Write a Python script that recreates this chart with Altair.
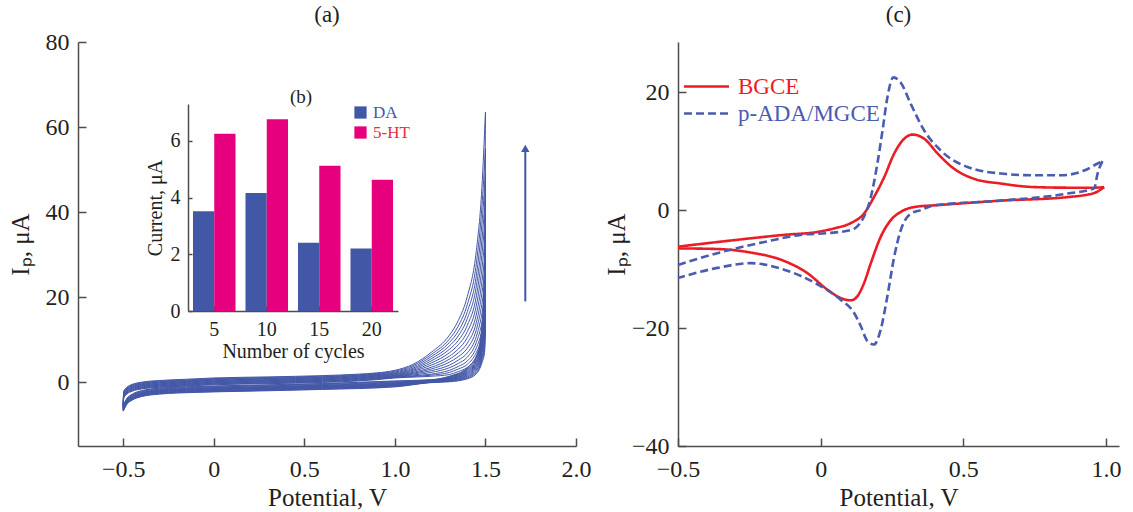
import altair as alt
import pandas as pd

FONT = "Liberation Serif"
TXT = "#231f20"
AXC = "#4d4d4d"
BLUE = "#4357a7"
RED = "#ec1c24"
MAG = "#e6007e"
LBLUE = "#4a5cb0"

# ---------------- panel (a): repeated CV cycles ----------------
# shared forward (anodic) baseline, E <= 0.9 V
fwd_base_E = [-0.5, -0.498, -0.48, -0.45, -0.4, -0.3, -0.15, 0.0, 0.3, 0.6, 0.8, 0.9]
fwd_base_I = [-6.0, -3.0, -2.0, -1.3, -0.8, -0.4, -0.1, 0.2, 0.45, 0.75, 1.1, 1.4]
# shared reverse (cathodic) baseline, E <= 1.0 V
rev_base_E = [1.0, 0.6, 0.2, -0.1, -0.3, -0.4, -0.45, -0.48, -0.5]
rev_base_I = [-0.3, -0.9, -1.3, -1.6, -2.0, -2.6, -3.4, -4.4, -6.0]
# small drift of each cycle
fwd_offset = [-0.8, -0.68, -0.56, -0.44, -0.32, -0.2, -0.08, 0.04, 0.16, 0.28, 0.4, 0.52, 0.66, 0.8]
rev_offset = [-0.8, -0.7, -0.6, -0.5, -0.4, -0.3, -0.2, -0.1, 0.0, 0.1, 0.2, 0.35, 0.5, 0.6]
# forward currents of each cycle near the anodic limit
fwd_E_hi = [1.0, 1.1, 1.2, 1.3, 1.35, 1.4, 1.45, 1.48, 1.5]
fwd_100 = [1.0, 1.1, 1.2, 1.3, 1.4, 1.5, 1.6, 1.75, 1.9, 2.05, 2.2, 2.4, 2.6, 2.8]
fwd_110 = [1.2, 1.35, 1.5, 1.7, 1.9, 2.1, 2.3, 2.55, 2.8, 3.05, 3.3, 3.6, 3.9, 4.2]
fwd_120 = [1.4, 1.65, 1.9, 2.3, 2.7, 3.1, 3.5, 4.0, 4.5, 5.0, 5.5, 6.0, 6.5, 7.0]
fwd_130 = [1.8, 2.3, 2.8, 3.4, 4.0, 4.7, 5.4, 6.1, 6.9, 7.7, 8.5, 9.3, 10.1, 11.0]
fwd_135 = [2.5, 3.1, 3.7, 4.4, 5.2, 6.0, 6.9, 7.8, 8.8, 9.8, 10.9, 12.0, 13.2, 14.5]
fwd_140 = [3.5, 4.2, 5.0, 5.9, 6.9, 8.0, 9.2, 10.5, 11.9, 13.4, 15.0, 16.6, 18.3, 20.2]
fwd_145 = [6.0, 7.0, 8.1, 9.4, 10.8, 12.4, 14.1, 16.0, 18.1, 20.3, 22.7, 25.2, 28.0, 31.0]
fwd_148 = [9.0, 10.4, 12.0, 13.9, 16.0, 18.3, 20.8, 23.5, 26.5, 29.8, 33.2, 37.0, 41.0, 45.5]
peak_150 = [12.5, 14.5, 16.5, 19.0, 21.5, 24.5, 27.5, 31.0, 35.0, 39.5, 44.0, 49.0, 55.0, 63.5]
# reverse currents of each cycle near the anodic limit
rev_E_hi = [1.5, 1.495, 1.48, 1.45, 1.4, 1.3, 1.2]
rev_1495 = [7.0, 8.0, 9.0, 10.0, 11.0, 12.5, 14.0, 15.5, 17.0, 19.0, 21.0, 23.0, 26.0, 30.0]
rev_148 = [4.5, 5.0, 5.5, 6.0, 6.6, 7.2, 7.8, 8.4, 9.0, 9.7, 10.4, 11.2, 12.0, 13.0]
rev_145 = [2.0, 2.3, 2.6, 2.9, 3.2, 3.5, 3.8, 4.1, 4.4, 4.7, 5.0, 5.4, 5.8, 6.2]
rev_140 = [0.8, 1.0, 1.2, 1.4, 1.6, 1.8, 2.0, 2.2, 2.4, 2.6, 2.8, 3.0, 3.2, 3.4]
rev_130 = [0.1, 0.2, 0.3, 0.4, 0.5, 0.6, 0.7, 0.8, 0.9, 1.0, 1.1, 1.2, 1.3, 1.4]
rev_120 = [-0.1, 0.0, 0.0, 0.1, 0.1, 0.2, 0.2, 0.3, 0.3, 0.4, 0.4, 0.5, 0.5, 0.6]

fwd_cols = [fwd_100, fwd_110, fwd_120, fwd_130, fwd_135, fwd_140, fwd_145, fwd_148, peak_150]
rev_cols = [peak_150, rev_1495, rev_148, rev_145, rev_140, rev_130, rev_120]

rows = []
for k in range(len(peak_150)):
    i = 0
    for e, v in zip(fwd_base_E, fwd_base_I):
        rows.append({"branch": f"{k}f", "idx": i, "E": e, "I": v + fwd_offset[k]}); i += 1
    for e, col in zip(fwd_E_hi, fwd_cols):
        rows.append({"branch": f"{k}f", "idx": i, "E": e, "I": col[k]}); i += 1
    i = 0
    for e, col in zip(rev_E_hi, rev_cols):
        rows.append({"branch": f"{k}r", "idx": i, "E": e, "I": col[k]}); i += 1
    for e, v in zip(rev_base_E, rev_base_I):
        rows.append({"branch": f"{k}r", "idx": i, "E": e, "I": v + rev_offset[k]}); i += 1
cv_df = pd.DataFrame(rows)

arrow_x = [1.72]
arrow_y0 = [19.0]
arrow_y1 = [55.0]
arrow_df = pd.DataFrame({"x": arrow_x, "y0": arrow_y0, "y1": arrow_y1})

# ---------------- inset (b) ----------------
cycle_labels = ["5", "10", "15", "20"]
da_current = [3.52, 4.16, 2.41, 2.20]
ht_current = [6.25, 6.76, 5.12, 4.63]
bars = []
for c, d, h in zip(cycle_labels, da_current, ht_current):
    bars.append({"cycles": c, "species": "DA", "current": d})
    bars.append({"cycles": c, "species": "5-HT", "current": h})
bar_df = pd.DataFrame(bars)

# ---------------- panel (c) ----------------
red_up_E = [-0.5, -0.304, -0.128, -0.011, 0.047, 0.106, 0.152, 0.187, 0.223, 0.258, 0.293, 0.322,
            0.363, 0.41, 0.468, 0.538, 0.632, 0.749, 0.866, 0.959, 0.994]
red_up_I = [-6.2, -5.1, -4.2, -3.7, -3.1, -2.2, -0.6, 2.2, 5.6, 9.6, 12.1, 12.8,
            12.1, 9.6, 7.0, 5.3, 4.5, 3.9, 3.8, 3.8, 3.9]
red_dn_E = [0.994, 0.959, 0.866, 0.632, 0.398, 0.34, 0.281, 0.246, 0.211, 0.176, 0.152, 0.129,
            0.106, 0.07, 0.024, -0.046, -0.14, -0.245, -0.362, -0.5]
red_dn_I = [3.9, 2.9, 2.2, 1.6, 0.8, 0.6, -0.3, -1.7, -4.5, -9.0, -12.4, -14.6,
            -15.3, -14.9, -13.5, -10.7, -8.4, -7.2, -6.6, -6.5]
blue_up_E = [-0.5, -0.362, -0.187, -0.07, 0.024, 0.106, 0.152, 0.176, 0.199, 0.217, 0.234, 0.255,
             0.281, 0.316, 0.363, 0.421, 0.515, 0.632, 0.749, 0.842, 0.924, 0.971, 0.988]
blue_up_I = [-9.3, -7.3, -5.3, -4.2, -3.9, -3.4, -1.1, 2.2, 7.9, 13.5, 19.1, 22.5,
             21.6, 18.0, 13.5, 10.1, 7.3, 6.2, 5.9, 5.9, 6.7, 7.9, 8.3]
blue_dn_E = [0.988, 0.971, 0.959, 0.866, 0.632, 0.398, 0.351, 0.316, 0.281, 0.258, 0.234, 0.211,
             0.187, 0.164, 0.141, 0.117, 0.07, -0.011, -0.128, -0.245, -0.362, -0.5]
blue_dn_I = [8.3, 6.2, 3.7, 2.8, 1.6, 0.8, 0.0, -0.6, -3.4, -7.9, -14.6, -20.2,
             -22.8, -22.2, -19.7, -17.4, -15.2, -12.6, -10.1, -9.0, -9.8, -11.5]
series_names = ["BGCE", "p-ADA/MGCE"]

crow = []
for name, b, es, iss in [
    ("BGCE", "r_up", red_up_E, red_up_I), ("BGCE", "r_dn", red_dn_E, red_dn_I),
    ("p-ADA/MGCE", "b_up", blue_up_E, blue_up_I), ("p-ADA/MGCE", "b_dn", blue_dn_E, blue_dn_I)]:
    for j, (e, v) in enumerate(zip(es, iss)):
        crow.append({"series": name, "branch": b, "idx": j, "E": e, "I": v})
c_df = pd.DataFrame(crow)

# ---------------- charts ----------------
AW, AH = 498, 404
CW, CH = 441, 404
TICK_IN = alt.ExprRef(expr="-8")
XLAB = "datum.value == 0 ? '0' : format(datum.value, '.1f')"

xa = alt.X("E:Q", scale=alt.Scale(domain=[-0.75, 2.0], nice=False, zero=False),
           axis=alt.Axis(values=[-0.5, 0, 0.5, 1.0, 1.5, 2.0], title="Potential, V", labelExpr=XLAB,
                         labelFlush=False, tickSize=TICK_IN, labelPadding=19, titlePadding=4))
ya = alt.Y("I:Q", scale=alt.Scale(domain=[-15, 80], nice=False, zero=False),
           axis=alt.Axis(values=[0, 20, 40, 60, 80], title="Iₚ, μA", labelFlush=False,
                         tickSize=TICK_IN, labelPadding=17, titlePadding=12))

curves = alt.Chart(cv_df).mark_line(color=BLUE, strokeWidth=1.0, interpolate="monotone").encode(
    x=xa, y=ya, detail="branch:N", order="idx:Q")
arrow_line = alt.Chart(arrow_df).mark_rule(color=BLUE, strokeWidth=2).encode(
    x="x:Q", y="y0:Q", y2="y1:Q")
arrow_head = alt.Chart(arrow_df).mark_point(shape="triangle-up", filled=True, size=70,
                                            color=BLUE, opacity=1).encode(x="x:Q", y="y1:Q")
main_a = alt.layer(curves, arrow_line, arrow_head)

inset_bars = alt.Chart(bar_df).mark_bar().encode(
    x=alt.X("cycles:N", sort=cycle_labels,
            scale=alt.Scale(range=[110, 320], paddingInner=0.19, paddingOuter=0.095),
            axis=alt.Axis(orient="bottom", offset=-135, title="Number of cycles", labelAngle=0,
                          labelFontSize=20, titleFontSize=20, tickSize=alt.ExprRef(expr="-5"),
                          labelPadding=13, titlePadding=2)),
    xOffset=alt.XOffset("species:N", sort=["DA", "5-HT"]),
    y=alt.Y("current:Q", scale=alt.Scale(domain=[0, 7.3], range=[269, 62], nice=False),
            axis=alt.Axis(orient="left", offset=-110, values=[0, 2, 4, 6], title="Current, μA",
                          labelFontSize=20, titleFontSize=20, tickSize=alt.ExprRef(expr="-4"),
                          labelPadding=12, titlePadding=5, labelFlush=False)),
    color=alt.Color("species:N", scale=alt.Scale(domain=["DA", "5-HT"], range=[BLUE, MAG]),
                    legend=alt.Legend(orient="none", legendX=274, legendY=62, title=None,
                                      symbolType="square", symbolSize=150, symbolStrokeWidth=0,
                                      labelFont=FONT, labelFontSize=17, rowPadding=2,
                                      labelColor=alt.ExprRef(expr="datum.label == 'DA' ? '#4357a7' : '#ee2a3c'"))),
)
inset_title = alt.Chart(pd.DataFrame({"t": ["(b)"]})).mark_text(
    font=FONT, fontSize=19, color=TXT, baseline="middle").encode(
    text="t:N", x=alt.value(223), y=alt.value(55))

chart_a = alt.layer(main_a, inset_bars, inset_title).resolve_scale(
    x="independent", y="independent").properties(
    width=AW, height=AH,
    title=alt.TitleParams("(a)", font=FONT, fontSize=23, fontWeight="normal", color=TXT, offset=3))

leg_c = alt.Legend(orient="none", legendX=17, legendY=33, title=None,
                   symbolType="M-2.5,0H2.5", symbolSize=324, symbolStrokeWidth=2.6,
                   labelFont=FONT, labelFontSize=23, labelOffset=20, rowPadding=3,
                   labelColor=alt.ExprRef(expr="datum.label == 'BGCE' ? '#ec1c24' : '#4a5cb0'"))
chart_c = alt.Chart(c_df).mark_line(strokeWidth=2.6, interpolate="monotone").encode(
    x=alt.X("E:Q", scale=alt.Scale(domain=[-0.5, 1.046], nice=False, zero=False),
            axis=alt.Axis(values=[-0.5, 0, 0.5, 1.0], title="Potential, V", labelExpr=XLAB,
                          labelFlush=False, tickSize=TICK_IN, labelPadding=19, titlePadding=4)),
    y=alt.Y("I:Q", scale=alt.Scale(domain=[-40, 28.5], nice=False, zero=False),
            axis=alt.Axis(values=[-40, -20, 0, 20], title="Iₚ, μA", labelFlush=False,
                          tickSize=TICK_IN, labelPadding=17, titlePadding=2)),
    color=alt.Color("series:N", scale=alt.Scale(domain=series_names, range=[RED, LBLUE]), legend=leg_c),
    strokeDash=alt.StrokeDash("series:N", scale=alt.Scale(domain=series_names, range=[[1, 0], [8, 4]]),
                              legend=leg_c),
    detail="branch:N", order="idx:Q",
).properties(width=CW, height=CH,
             title=alt.TitleParams("(c)", font=FONT, fontSize=23, fontWeight="normal", color=TXT, offset=15))

chart = alt.hconcat(chart_a, chart_c, spacing=13).resolve_scale(
    color="independent", strokeDash="independent").properties(
    padding={"left": 8, "top": 4, "right": 4, "bottom": 0}).configure_view(stroke=None).configure_axis(
    labelFont=FONT, titleFont=FONT, labelColor=TXT, titleColor=TXT, labelFontSize=24, titleFontSize=25,
    titleFontWeight="normal", domainColor=AXC, tickColor=AXC, domainWidth=1.5, tickWidth=1.5, grid=False)

chart.save("out.html", embed_options={"renderer": "svg", "actions": False})
